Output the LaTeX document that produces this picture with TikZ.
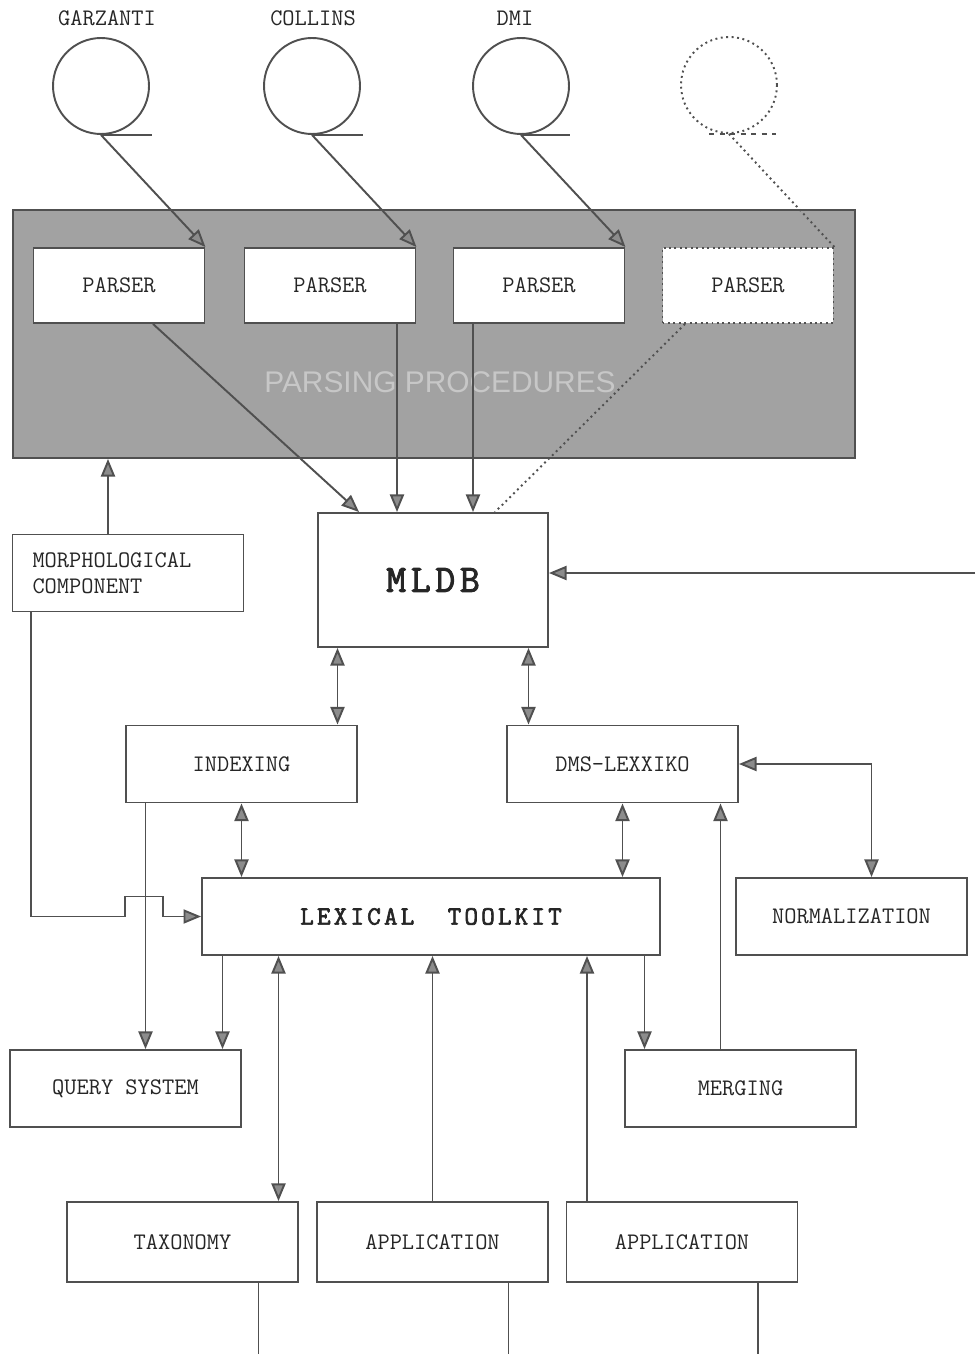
\documentclass[tikz,border=0pt]{standalone}
\usepackage{fontspec}
\newfontfamily\bannerfont{Liberation Sans}
\newfontfamily\heavymono{Latin Modern Mono}[FakeBold=2.5,LetterSpace=12]
\usepackage{tikz}
\usetikzlibrary{arrows.meta,positioning,calc}
\definecolor{inkcol}{RGB}{80,80,80}
\definecolor{headcol}{RGB}{140,140,140}
\definecolor{meshcol}{RGB}{162,162,162}
\newcommand{\upx}{0.02cm}

\begin{document}
\begin{tikzpicture}[x=0.02cm,y=-0.02cm,line width=1.1pt,
   box/.style={draw=inkcol,fill=white,minimum width=4.62cm,minimum height=1.54cm,
               inner sep=2pt,align=center,text=black!85,
               font=\ttfamily\fontsize{13.5}{14.5}\selectfont},
   pbox/.style={box,minimum width=3.42cm,minimum height=1.5cm},
   db/.style={circle,draw=inkcol,minimum size=1.92cm,inner sep=0pt},
   tag/.style={text=black!85,font=\ttfamily\fontsize{13.5}{14.5}\selectfont},
   ln/.style={draw=inkcol},
   arr/.style={ln,-{Triangle[length=10pt,width=8pt,fill=headcol]}},
   dbl/.style={ln,{Triangle[length=10pt,width=8pt,fill=headcol]}-{Triangle[length=10pt,width=8pt,fill=headcol]}}]
  \useasboundingbox (0,0) rectangle (975,1354);
  \coordinate (ext) at (975,573);
  \coordinate (bot) at (0,1354);

  \node[tag] (tg) at (107,18) {GARZANTI};
  \node[tag] (tc) at (313,18) {COLLINS};
  \node[tag] (td) at (515,18) {DMI};
  \node[db] (garz) at (101,86) {};
  \node[db] (coll) at (312,86) {};
  \node[db] (dmi) at (521,86) {};
  \node[db,dotted] (dbx) at (729,85) {};
  \draw[ln] (garz.south) -- ++(51,0);
  \draw[ln] (coll.south) -- ++(51,0);
  \draw[ln] (dmi.south) -- ++(49,0);
  \draw[ln,dashed] ([xshift=-20*\upx]dbx.south) -- ++(67,0);

  \node[draw=inkcol,fill=meshcol,minimum width=16.84cm,minimum height=4.96cm] (parse) at (434,334) {};
  \node[text=black!22,font=\bannerfont\fontsize{17}{20}\selectfont] (ptitle) at (440,382) {PARSING PROCEDURES};
  \node[pbox] (p1) at (119,285.5) {PARSER};
  \node[pbox] (p2) at (330,285.5) {PARSER};
  \node[pbox] (p3) at (539,285.5) {PARSER};
  \node[pbox,dotted] (p4) at (748,285.5) {PARSER};

  \node[box,minimum width=4.6cm,minimum height=2.68cm,
        font=\heavymono\fontsize{22}{26}\selectfont] (mldb) at (433,580) {MLDB};
  \node[box,align=left,text width=3.82cm,inner xsep=0.4cm] (morph) at (128,573) {MORPHOLOGICAL\\COMPONENT};
  \node[box] (idx) at (241.5,764) {INDEXING};
  \node[box] (dms) at (622.5,764) {DMS-LEXXIKO};
  \node[box,minimum width=9.16cm,
        font=\heavymono\fontsize{15}{17}\selectfont] (tk) at (431,916.5) {LEXICAL\ \ TOOLKIT};
  \node[box] (norm) at (851.5,916.5) {NORMALIZATION};
  \node[box] (qry) at (125.5,1088.5) {QUERY SYSTEM};
  \node[box] (merge) at (740.5,1088.5) {MERGING};
  \node[box,minimum height=1.6cm] (tax) at (182.5,1242) {TAXONOMY};
  \node[box,minimum height=1.6cm] (app1) at (432.5,1242) {APPLICATION};
  \node[box,minimum height=1.6cm] (app2) at (682,1242) {APPLICATION};

  \draw[arr] (garz.south) -- (p1.north east);
  \draw[arr] (coll.south) -- (p2.north east);
  \draw[arr] (dmi.south) -- (p3.north east);
  \draw[ln,dotted] (dbx.south) -- (p4.north east);
  \draw[arr] ([xshift=34*\upx]p1.south) -- ([xshift=42*\upx]mldb.north west);
  \draw[arr] ([xshift=67*\upx]p2.south) -- ([xshift=67*\upx]p2.south |- mldb.north);
  \draw[arr] ([xshift=-66*\upx]p3.south) -- ([xshift=-66*\upx]p3.south |- mldb.north);
  \draw[ln,dotted] ([xshift=-63*\upx]p4.south) -- ([xshift=62*\upx]mldb.north);
  \draw[arr] (ext) -- (ext -| mldb.east);
  \draw[arr] ([xshift=-20*\upx]morph.north) -- ([xshift=-20*\upx]morph.north |- parse.south);
  \draw[arr] ([xshift=19*\upx]morph.south west) |- ([xshift=-76*\upx]tk.west)
        -- ++(0,-20) -- ++(38,0) -- ++(0,20) -- (tk.west);
  \draw[dbl] ([xshift=96*\upx]idx.north |- mldb.south) -- ([xshift=96*\upx]idx.north);
  \draw[dbl] ([xshift=-94*\upx]dms.north |- mldb.south) -- ([xshift=-94*\upx]dms.north);
  \draw[dbl] (idx.south) -- (idx.south |- tk.north);
  \draw[dbl] (dms.south) -- (dms.south |- tk.north);
  \draw[dbl] (dms.east) -| ([xshift=20*\upx]norm.north);
  \draw[arr] ([xshift=-20*\upx]merge.north) -- ([xshift=-20*\upx]merge.north |- dms.south);
  \draw[arr] ([xshift=-96*\upx]idx.south) -- ([xshift=-96*\upx]idx.south |- qry.north);
  \draw[arr] ([xshift=97*\upx]qry.north |- tk.south) -- ([xshift=97*\upx]qry.north);
  \draw[arr] ([xshift=-96*\upx]merge.north |- tk.south) -- ([xshift=-96*\upx]merge.north);
  \draw[dbl] ([xshift=96*\upx]tax.north |- tk.south) -- ([xshift=96*\upx]tax.north);
  \draw[arr] (app1.north) -- (app1.north |- tk.south);
  \draw[arr] ([xshift=-95*\upx]app2.north) -- ([xshift=-95*\upx]app2.north |- tk.south);
  \draw[ln] ([xshift=76*\upx]tax.south) -- ([xshift=76*\upx]tax.south |- bot);
  \draw[ln] ([xshift=76*\upx]app1.south) -- ([xshift=76*\upx]app1.south |- bot);
  \draw[ln] ([xshift=76*\upx]app2.south) -- ([xshift=76*\upx]app2.south |- bot);
\end{tikzpicture}
\end{document}
